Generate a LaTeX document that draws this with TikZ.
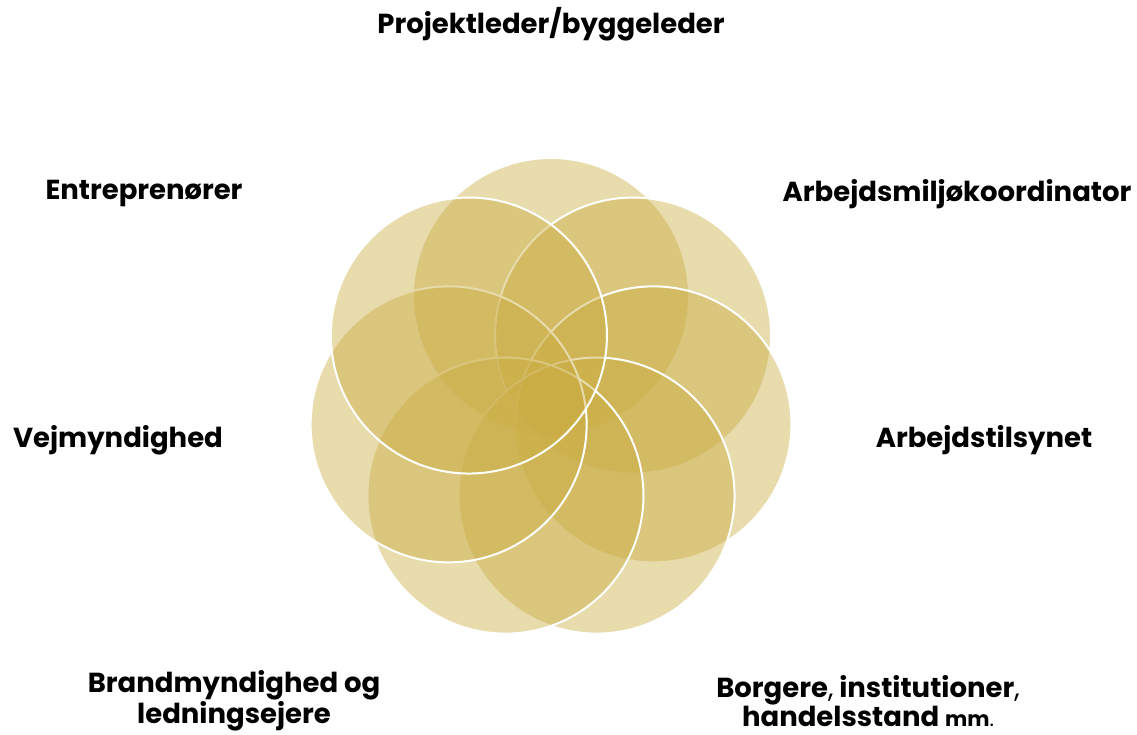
\documentclass[tikz,border=0pt]{standalone}
\usepackage{fontspec}
\usetikzlibrary{calc}
\setmainfont{Poppins}
\definecolor{gold}{RGB}{202,172,66}
\begin{document}
\begin{tikzpicture}[x=1pt,y=-1pt,
  petal/.style={fill=gold,fill opacity=0.44,draw=white,draw opacity=1,line width=2pt},
  lbl/.style={font=\fontsize{27.5}{29}\selectfont\bfseries,text=black,inner sep=0pt,align=center}]
\useasboundingbox (0,0) rectangle (1137,735);
\coordinate (c) at (551,401);
\foreach \k in {0,...,6}{
  \pgfmathsetmacro{\a}{-90+\k*360/7}
  \path[petal] ($(c)+(\a:105)$) circle[radius=138];
}
\node[lbl] (p) at (551,24) {Projektleder/byggeleder};
\node[lbl] (a) at (957,194) {Arbejdsmiljøkoordinator};
\node[lbl] (e) at (144,194) {Entreprenører};
\node[lbl] (v) at (118,440) {Vejmyndighed};
\node[lbl] (t) at (984,440) {Arbejdstilsynet};
\node[lbl] (b) at (234,701) {Brandmyndighed og\\ledningsejere};
\node[lbl] (g) at (868,701) {Borgere{\mdseries,} institutioner{\mdseries,}\\handelsstand {\fontsize{21}{24}\selectfont mm\mdseries.}};
\end{tikzpicture}
\end{document}
